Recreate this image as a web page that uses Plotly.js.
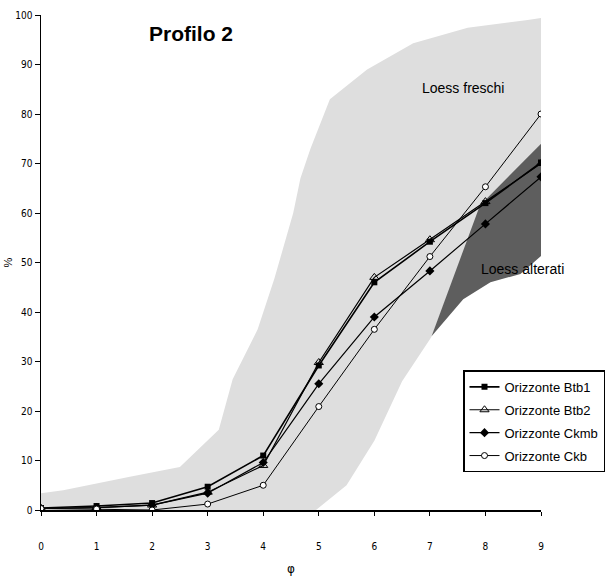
<!DOCTYPE html>
<html>
<head>
<meta charset="utf-8">
<script src="https://cdn.plot.ly/plotly-3.0.1.min.js"></script>
<style>html,body{margin:0;padding:0;background:#fff;}#chart{width:613px;height:580px;}</style>
</head>
<body>
<div id="chart"></div>
<script>
// Phi classes
var phi = [0, 1, 2, 3, 4, 5, 6, 7, 8, 9];
// Cumulative % for each horizon
var btb1 = [0.4, 0.8, 1.4, 4.7, 11, 29.2, 46, 54.2, 62, 70.2];
var btb2 = [0.3, 0.5, 1.0, 3.6, 9.0, 29.8, 47, 54.6, 62.3, 70];
var ckmb = [0.3, 0.5, 1.0, 3.4, 9.6, 25.5, 39, 48.3, 57.8, 67.3];
var ckb  = [0.3, 0.2, 0.0, 1.2, 5.0, 20.9, 36.5, 51.2, 65.3, 80];
var seriesNames = ["Orizzonte Btb1", "Orizzonte Btb2", "Orizzonte Ckmb", "Orizzonte Ckb"];

// Envelope "Loess freschi" (outline)
var freschiX = [0, 0.4, 1.6, 2.5, 3.2, 3.45, 3.9, 4.2, 4.54, 4.67, 4.85, 5.2, 5.87, 6.7, 7.68, 8.76, 9, 9, 7.9, 7.03, 6.5, 6.0, 5.5, 4.95, 0];
var freschiY = [3.4, 4, 6.7, 8.7, 16.2, 26.4, 36.5, 46.7, 60, 67, 73, 83, 89, 94.3, 97.4, 99, 99.4, 74, 61, 35, 26, 14, 5, 0, 0];
// Envelope "Loess alterati"
var alteratiX = [7.03, 7.9, 9, 9, 8.63, 8.09, 7.6, 7.03];
var alteratiY = [35.1, 61.5, 74, 51.3, 47.7, 46, 42.6, 35.1];

var xTicks = [0,1,2,3,4,5,6,7,8,9];
var yTicks = [0,10,20,30,40,50,60,70,80,90,100];

var traces = [
  {x: freschiX, y: freschiY, mode: 'none', fill: 'toself', fillcolor: '#dedede', showlegend: false, hoverinfo: 'skip'},
  {x: alteratiX, y: alteratiY, mode: 'none', fill: 'toself', fillcolor: '#5e5e5e', showlegend: false, hoverinfo: 'skip'},
  {x: phi, y: btb1, name: seriesNames[0], legendgroup: 'a', mode: 'lines+markers', line: {color: '#000', width: 1.6},
   marker: {symbol: 'square', size: 6, color: '#000'}},
  {x: phi, y: btb2, name: seriesNames[1], legendgroup: 'b', mode: 'lines+markers', line: {color: '#000', width: 1.2},
   marker: {symbol: 'triangle-up-open', size: 8, color: '#000', line: {width: 1}}},
  {x: phi, y: ckmb, name: seriesNames[2], legendgroup: 'c', mode: 'lines+markers', line: {color: '#000', width: 1.2},
   marker: {symbol: 'diamond', size: 7, color: '#000'}},
  {x: phi, y: ckb, name: seriesNames[3], legendgroup: 'd', mode: 'lines+markers', line: {color: '#000', width: 1},
   marker: {symbol: 'circle', size: 6, color: '#fff', line: {color: '#000', width: 1}}}
];

var tickFont = {family: 'Liberation Sans Narrow, DejaVu Sans Condensed, Arial Narrow, sans-serif', size: 10, color: '#000'};

var layout = {
  width: 613, height: 580,
  margin: {l: 41, r: 72, t: 15, b: 70, autoexpand: false},
  paper_bgcolor: '#fff', plot_bgcolor: '#fff',
  showlegend: true,
  xaxis: {
    range: [0, 9], tickvals: xTicks, ticktext: xTicks.map(String),
    showgrid: false, zeroline: false, showline: true, linecolor: '#000', linewidth: 1.5,
    ticks: 'outside', ticklen: 4, tickcolor: '#000', tickwidth: 1,
    tickfont: tickFont, ticklabelstandoff: 22,
    title: {text: 'φ', font: {family: 'DejaVu Sans, Noto Sans, sans-serif', size: 12, color: '#000000'}, standoff: 14}
  },
  yaxis: {
    range: [0, 100], tickvals: yTicks, ticktext: yTicks.map(String),
    showgrid: false, zeroline: false, showline: true, linecolor: '#000', linewidth: 1.5,
    ticks: 'outside', ticklen: 5, tickcolor: '#000', tickwidth: 1,
    tickfont: tickFont,
    title: {text: '%', font: {family: 'Liberation Sans Narrow, sans-serif', size: 11, color: '#000'}, standoff: 0}
  },
  legend: {
    x: 0.844, y: 0.282, xanchor: 'left', yanchor: 'top',
    bgcolor: '#fff', bordercolor: '#000', borderwidth: 1.5,
    font: {family: 'Arial, Liberation Sans, sans-serif', size: 13, color: '#000'},
    tracegroupgap: 3, itemwidth: 30
  },
  annotations: [
    {text: '<b>Profilo 2</b>', xref: 'paper', yref: 'paper', x: 0.3, y: 0.962, xanchor: 'center', yanchor: 'middle',
     showarrow: false, font: {family: 'Arial, Liberation Sans, sans-serif', size: 21, color: '#000'}},
    {text: 'Loess freschi', xref: 'paper', yref: 'paper', x: 0.844, y: 0.852, xanchor: 'center', yanchor: 'middle',
     showarrow: false, font: {family: 'Arial, Liberation Sans, sans-serif', size: 14, color: '#000'}},
    {text: 'Loess alterati', xref: 'paper', yref: 'paper', x: 0.962, y: 0.487, xanchor: 'center', yanchor: 'middle',
     showarrow: false, font: {family: 'Arial, Liberation Sans, sans-serif', size: 14, color: '#000'}}
  ]
};

Plotly.newPlot('chart', traces, layout, {displayModeBar: false, staticPlot: true});
</script>
</body>
</html>
